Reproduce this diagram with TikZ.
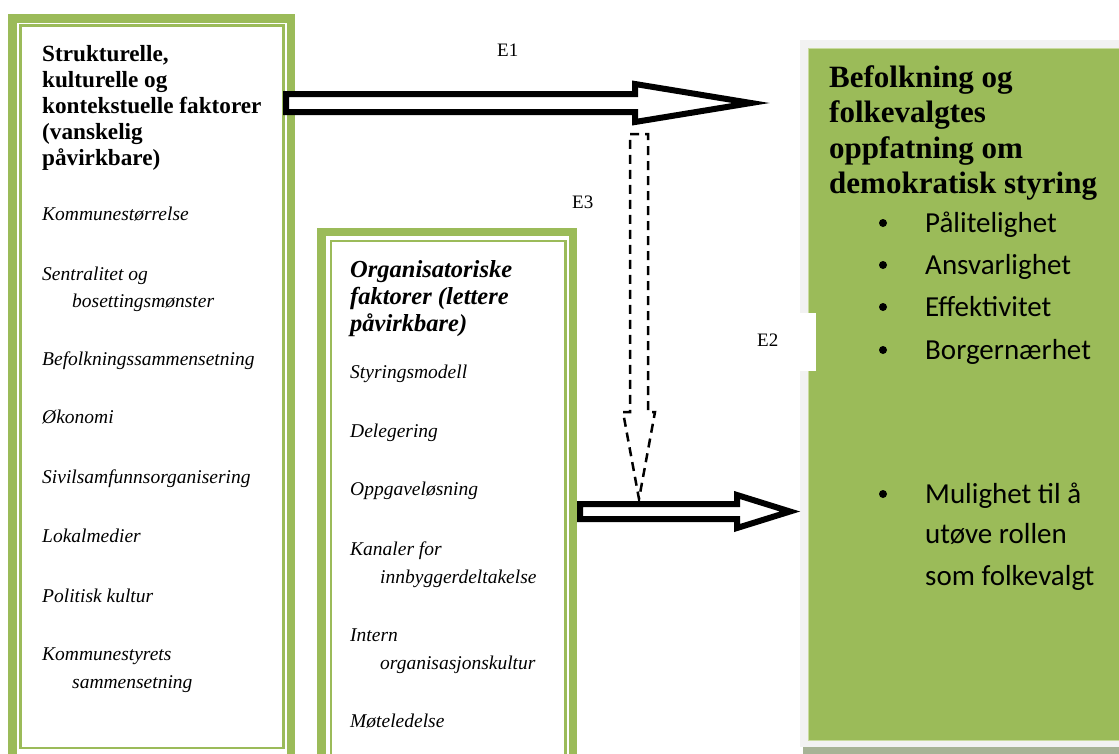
\documentclass[tikz,border=0pt]{standalone}
\usepackage{fontspec}
\setmainfont{Liberation Serif}
\newfontfamily\calibri{Carlito}
\definecolor{og}{HTML}{9BBB59}
\definecolor{ogline}{HTML}{C9DB9F}
\definecolor{lgray}{HTML}{F2F2F2}
\definecolor{shadowc}{HTML}{A7B396}
\begin{document}
\begin{tikzpicture}[x=1pt,y=-1pt,
  frameout/.style={draw=og, line width=8.5pt},
  framein/.style={draw=og, line width=2.5pt},
  hd/.style={anchor=base west, inner sep=0pt, font=\bfseries\fontsize{23.2}{27}\selectfont},
  it/.style={anchor=base west, inner sep=0pt, font=\itshape\fontsize{19.5}{24}\selectfont},
  mh/.style={anchor=base west, inner sep=0pt, font=\bfseries\itshape\fontsize{24.5}{27}\selectfont},
  rh/.style={anchor=base west, inner sep=0pt, font=\bfseries\fontsize{31}{36}\selectfont},
  bl/.style={anchor=base west, inner sep=0pt, font=\calibri\fontsize{29}{34}\selectfont},
  bdot/.style={circle, fill=black, inner sep=0pt, minimum size=8pt},
  elab/.style={anchor=base west, inner sep=0pt, font=\fontsize{19}{23}\selectfont},
  blockarrow/.style={draw=black, fill=white, line width=6pt, line join=miter, miter limit=10},
  dasharrow/.style={draw=black, line width=2.5pt, dash pattern=on 9pt off 6pt}]
\useasboundingbox (0,0) rectangle (1119,753);
\clip (0,0) rectangle (1119,753);
\fill[white] (0,0) rectangle (1119,753);

% ---------- left box ----------
\draw[frameout] (12.25,18.25) rectangle (291,775);
\draw[framein] (20.25,25.5) rectangle (283.5,748);
\node[hd] (l1) at (42,61) {Strukturelle,};
\node[hd] (l2) at (42,87) {kulturelle og};
\node[hd] (l3) at (42,113) {kontekstuelle faktorer};
\node[hd] (l4) at (42,139) {(vanskelig};
\node[hd] (l5) at (42,165) {påvirkbare)};
\node[it] (a1) at (42,220) {Kommunestørrelse};
\node[it] (a2) at (42,280) {Sentralitet og};
\node[it] (a2b) at (72,307) {bosettingsmønster};
\node[it] (a3) at (42,365) {Befolkningssammensetning};
\node[it] (a4) at (42,423) {Økonomi};
\node[it] (a5) at (42,483) {Sivilsamfunnsorganisering};
\node[it] (a6) at (42,542) {Lokalmedier};
\node[it] (a7) at (42,602) {Politisk kultur};
\node[it] (a8) at (42,660) {Kommunestyrets};
\node[it] (a8b) at (72,688) {sammensetning};

% ---------- middle box ----------
\draw[frameout] (321.5,231.75) rectangle (573,775);
\draw[framein] (331,241) rectangle (565.5,775);
\node[mh] (m1) at (350,277) {Organisatoriske};
\node[mh] (m2) at (350,304) {faktorer (lettere};
\node[mh] (m3) at (350,331) {påvirkbare)};
\node[it] (b1) at (350,378) {Styringsmodell};
\node[it] (b2) at (350,437) {Delegering};
\node[it] (b3) at (350,495) {Oppgaveløsning};
\node[it] (b4) at (350,555) {Kanaler for};
\node[it] (b4b) at (380,583) {innbyggerdeltakelse};
\node[it] (b5) at (350,641) {Intern};
\node[it] (b5b) at (380,669) {organisasjonskultur};
\node[it] (b6) at (350,727) {Møteledelse};

% ---------- right box ----------
\fill[shadowc] (803,747) rectangle (1125,760);
\fill[lgray] (800,40) rectangle (1125,747);
\filldraw[fill=og, draw=ogline, line width=1pt] (808.5,48.5) rectangle (1125,740);
\node[rh] (r1) at (829,87) {Befolkning og};
\node[rh] (r2) at (829,122) {folkevalgtes};
\node[rh] (r3) at (829,158) {oppfatning om};
\node[rh] (r4) at (829,193) {demokratisk styring};
\node[bdot] (d1) at (883,223) {};
\node[bl] (p1) at (925,232) {Pålitelighet};
\node[bdot] (d2) at (883,265) {};
\node[bl] (p2) at (925,274) {Ansvarlighet};
\node[bdot] (d3) at (883,307) {};
\node[bl] (p3) at (925,316) {Effektivitet};
\node[bdot] (d4) at (883,350) {};
\node[bl] (p4) at (925,359) {Borgernærhet};
\node[bdot] (d5) at (883,494) {};
\node[bl] (p5) at (925,503) {Mulighet til å};
\node[bl] (p5b) at (925,543) {utøve rollen};
\node[bl] (p5c) at (925,585) {som folkevalgt};

% ---------- labels ----------
\fill[white] (740,313) rectangle (816,371);
\node[elab] (e1) at (497,56) {E1};
\node[elab] (e3) at (572,208) {E3};
\node[elab] (e2) at (757,346) {E2};

% ---------- arrows ----------
\path[blockarrow] (286,94) -- (635,94) -- (635,84) -- (751,103) -- (635,122) -- (635,112) -- (286,112) -- cycle;
\path[blockarrow] (580,504) -- (737,504) -- (737,495) -- (790,511.5) -- (737,528) -- (737,519) -- (580,519) -- cycle;
\path[dasharrow] (630,134) -- (648,134) -- (648,412) -- (655,412) -- (639,499) -- (623,412) -- (630,412) -- cycle;
\end{tikzpicture}
\end{document}
